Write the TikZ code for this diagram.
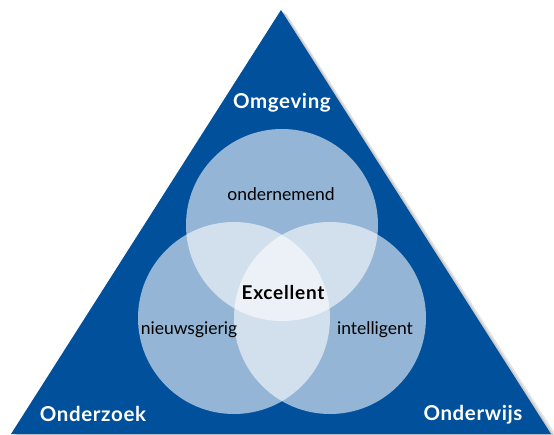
\documentclass[tikz,border=0pt]{standalone}
\usepackage{fontspec}
\setmainfont{Lato}
\definecolor{tri}{RGB}{0,80,155}
\begin{document}
\begin{tikzpicture}[x=1pt,y=-1pt,
  venn/.style={circle,fill=white,fill opacity=0.58,minimum size=192pt,inner sep=0pt},
  corner/.style={text=white,font=\fontsize{20.5}{24}\selectfont\bfseries\addfontfeature{LetterSpace=3}},
  inner/.style={text=black,font=\fontsize{17.5}{20}\selectfont}]
\useasboundingbox (0,0) rectangle (554,434);
% shadow
\fill[black!35,opacity=0.5] (284,12) -- (555,437) -- (14,437) -- cycle;
\fill[black!25,opacity=0.4] (286,13) -- (558,438) -- (16,438) -- cycle;
% triangle
\fill[tri] (281,10) -- (551,434) -- (11,434) -- cycle;
% circles
\node[venn] (top) at (282,225) {};
\node[venn] (left) at (234,318) {};
\node[venn] (right) at (330,318) {};
% labels
\node[corner] (omg) at (282,103) {Omgeving};
\node[corner] (ozk) at (93,414) {Onderzoek};
\node[corner] (ow) at (473,415) {Onderwijs};
\node[inner] (ond) at (281,194) {ondernemend};
\node[inner,font=\fontsize{19}{22}\selectfont\bfseries\addfontfeature{LetterSpace=4}] (exc) at (283,293) {Excellent};
\node[inner] (nw) at (189,330) {nieuwsgierig};
\node[inner] (int) at (375,330) {intelligent};
\end{tikzpicture}
\end{document}
